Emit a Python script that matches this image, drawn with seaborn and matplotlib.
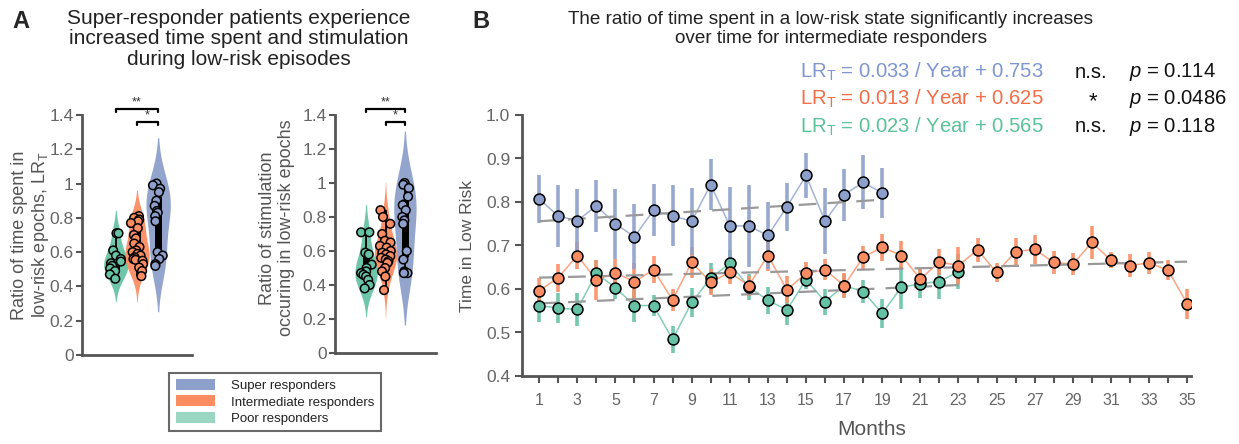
import numpy as np
import pandas as pd
import matplotlib
matplotlib.use("Agg")
import matplotlib.pyplot as plt
from matplotlib.patches import Patch
import seaborn as sns

# ---------------- Data ----------------
group_names = ["Poor", "Intermediate", "Super"]
legend_labels = ["Super responders", "Intermediate responders", "Poor responders"]

# Panel A (left): ratio of time spent in low-risk epochs
time_poor = [0.71, 0.71, 0.61, 0.58, 0.56, 0.545, 0.535, 0.52, 0.505, 0.49, 0.47, 0.445]
time_inter = [0.81, 0.80, 0.79, 0.78, 0.77, 0.74, 0.70, 0.68, 0.65, 0.63, 0.61,
              0.60, 0.59, 0.58, 0.57, 0.56, 0.555, 0.55, 0.53, 0.51, 0.49, 0.46]
time_super = [1.0, 0.99, 0.97, 0.95, 0.90, 0.87, 0.84, 0.83, 0.81, 0.78,
              0.60, 0.58, 0.56, 0.53, 0.52]

# Panel A (right): ratio of stimulation occurring in low-risk epochs
stim_poor = [0.71, 0.71, 0.59, 0.58, 0.52, 0.50, 0.48, 0.47, 0.46, 0.45, 0.43, 0.40, 0.38]
stim_inter = [0.84, 0.80, 0.76, 0.70, 0.66, 0.65, 0.63, 0.62, 0.60, 0.59, 0.58,
              0.57, 0.56, 0.55, 0.54, 0.53, 0.50, 0.48, 0.45, 0.37]
stim_super = [1.0, 0.99, 0.97, 0.92, 0.87, 0.84, 0.80, 0.78, 0.76, 0.60,
              0.55, 0.48, 0.47, 0.47]

# Panel B: time in low risk per month (mean, error)
months_super = list(range(1, 20))
super_mean = [0.807, 0.768, 0.757, 0.791, 0.750, 0.720, 0.781, 0.768, 0.756, 0.840,
              0.745, 0.745, 0.723, 0.789, 0.861, 0.756, 0.817, 0.845, 0.821]
super_err = [0.056, 0.071, 0.072, 0.059, 0.080, 0.075, 0.060, 0.070, 0.077, 0.059,
             0.089, 0.094, 0.077, 0.055, 0.051, 0.076, 0.060, 0.062, 0.058]

months_inter = list(range(1, 36))
inter_mean = [0.596, 0.626, 0.677, 0.621, 0.637, 0.617, 0.644, 0.575, 0.661, 0.616,
              0.638, 0.608, 0.677, 0.598, 0.636, 0.644, 0.608, 0.673, 0.696, 0.677,
              0.623, 0.662, 0.654, 0.690, 0.638, 0.686, 0.691, 0.661, 0.657, 0.707,
              0.666, 0.654, 0.660, 0.643, 0.566]
inter_err = [0.029, 0.032, 0.032, 0.046, 0.032, 0.042, 0.031, 0.025, 0.035, 0.029,
             0.026, 0.023, 0.035, 0.031, 0.027, 0.024, 0.029, 0.026, 0.031, 0.033,
             0.025, 0.029, 0.043, 0.028, 0.022, 0.032, 0.033, 0.027, 0.025, 0.038,
             0.018, 0.027, 0.025, 0.023, 0.034]

months_poor = list(range(1, 24))
poor_mean = [0.562, 0.556, 0.553, 0.636, 0.603, 0.562, 0.562, 0.484, 0.569, 0.625,
             0.659, 0.605, 0.574, 0.552, 0.621, 0.571, 0.608, 0.594, 0.544, 0.604,
             0.612, 0.617, 0.640]
poor_err = [0.038, 0.035, 0.038, 0.030, 0.025, 0.038, 0.025, 0.031, 0.033, 0.035,
            0.030, 0.030, 0.031, 0.034, 0.021, 0.030, 0.026, 0.026, 0.034, 0.050,
            0.033, 0.040, 0.040]

# Linear fits (slope per year, intercept)
fit_slope = {"Super": 0.033, "Intermediate": 0.013, "Poor": 0.023}
fit_icpt = {"Super": 0.753, "Intermediate": 0.625, "Poor": 0.565}
fit_sig = {"Super": "n.s.", "Intermediate": "*", "Poor": "n.s."}
fit_p = {"Super": "0.114", "Intermediate": "0.0486", "Poor": "0.118"}

# ---------------- Style ----------------
sns.set_theme(style="white")
plt.rcParams["font.family"] = ["Liberation Sans", "DejaVu Sans"]
plt.rcParams["mathtext.fontset"] = "custom"
plt.rcParams["mathtext.rm"] = "Liberation Sans"
plt.rcParams["mathtext.it"] = "Liberation Sans:italic"

pal = {"Super": "#8da0cb", "Intermediate": "#fc8d62", "Poor": "#66c2a5"}
txt_col = {"Super": "#7f97cf", "Intermediate": "#f26d48", "Poor": "#5cc29c"}
spine_col = "#555555"
tick_col = "#666666"

W, H = 1239, 444
fig = plt.figure(figsize=(W / 100, H / 100), dpi=100)


def fax(x0, y0, x1, y1):
    return fig.add_axes([x0 / W, 1 - y1 / H, (x1 - x0) / W, (y1 - y0) / H])


def style_axes(ax):
    sns.despine(ax=ax)
    for s in ["left", "bottom"]:
        ax.spines[s].set_color(spine_col)
        ax.spines[s].set_linewidth(2)


# ---------------- Panel A ----------------
def violin_panel(ax, poor, inter, sup, seed):
    df = pd.DataFrame({
        "group": ["Poor"] * len(poor) + ["Intermediate"] * len(inter) + ["Super"] * len(sup),
        "value": poor + inter + sup,
    })
    sns.violinplot(data=df, x="group", y="value", hue="group", order=group_names,
                   hue_order=group_names, palette=pal, inner=None, linewidth=0,
                   density_norm="width", width=1.15, bw_adjust=1.3, saturation=1,
                   legend=False, ax=ax, alpha=0.95)
    for i, g in enumerate(group_names):
        v = df.loc[df.group == g, "value"].to_numpy()
        q1, med, q3 = np.percentile(v, [25, 50, 75])
        ax.plot([i, i], [v.min(), v.max()], color="black", lw=1.3, zorder=3,
                solid_capstyle="butt")
        ax.plot([i, i], [q1, q3], color="black", lw=5, zorder=3, solid_capstyle="butt")
        ax.plot([i], [med], marker="s", ms=3.5, color="white", zorder=3.5)
    np.random.seed(seed)
    sns.stripplot(data=df, x="group", y="value", hue="group", order=group_names,
                  hue_order=group_names, palette=pal, jitter=0.3, size=6.2,
                  edgecolor="black", linewidth=1.1, legend=False, ax=ax, zorder=4)
    ax.set_xlim(-1.6, 3.6)
    ax.set_ylim(0, 1.4)
    ax.set_yticks(np.arange(0, 1.41, 0.2))
    ax.set_yticklabels(["0", "0.2", "0.4", "0.6", "0.8", "1", "1.2", "1.4"])
    ax.set_xticks([])
    ax.set_xlabel("")
    ax.set_ylabel("")
    style_axes(ax)
    ax.tick_params(axis="y", direction="out", length=4, width=1.5, color=spine_col,
                   labelsize=12.5, labelcolor=tick_col, pad=2, left=True)
    # significance brackets
    for x0, x1, y, lab in [(0, 2, 1.435, "**"), (1, 2, 1.36, "*")]:
        ax.plot([x0, x0, x1, x1], [y - 0.018, y, y, y - 0.018], color="black",
                lw=1.6, clip_on=False, zorder=5)
        ax.text((x0 + x1) / 2, y + 0.002, lab, ha="center", va="bottom",
                fontsize=9, color="#333333", clip_on=False)


axA1 = fax(82, 115, 192, 355)
violin_panel(axA1, time_poor, time_inter, time_super, 3)
axA2 = fax(335, 115, 436, 353)
violin_panel(axA2, stim_poor, stim_inter, stim_super, 7)

fig.text(31 / W, 1 - 235 / H, "Ratio of time spent in\nlow-risk epochs, LR$_\\mathregular{T}$",
         rotation=90, ha="center", va="center", fontsize=13, color=spine_col,
         linespacing=1.15)
fig.text(277 / W, 1 - 228 / H, "Ratio of stimulation\noccuring in low-risk epochs",
         rotation=90, ha="center", va="center", fontsize=13, color=spine_col,
         linespacing=1.15)

fig.text(12 / W, 1 - 21 / H, "A", fontsize=17, fontweight="bold", ha="left", va="center")
fig.text(239 / W, 1 - 39 / H,
         "Super-responder patients experience\nincreased time spent and stimulation\nduring low-risk episodes",
         ha="center", va="center", fontsize=15, color="#222222", linespacing=1.08)

handles = [Patch(facecolor=pal["Super"], edgecolor="none"),
           Patch(facecolor=pal["Intermediate"], edgecolor="none"),
           Patch(facecolor="#9bd6c2", edgecolor="none")]
leg = fig.legend(handles, legend_labels, loc="center",
                 bbox_to_anchor=(275 / W, 1 - 402 / H), fontsize=9.5,
                 frameon=True, fancybox=False, handlelength=3.0, handleheight=0.9,
                 handletextpad=1.2, borderpad=0.5, labelspacing=0.25)
leg.get_frame().set_edgecolor("#444444")
leg.get_frame().set_linewidth(1.5)
for t in leg.get_texts():
    t.set_color("#222222")

# ---------------- Panel B ----------------
axB = fax(522, 115, 1191, 376)

series = [("Poor", months_poor, poor_mean, poor_err),
          ("Intermediate", months_inter, inter_mean, inter_err),
          ("Super", months_super, super_mean, super_err)]

for g, m, mu, err in series:
    df = pd.DataFrame({"month": m, "mean": mu, "err": err})
    axB.vlines(df["month"], df["mean"] - df["err"], df["mean"] + df["err"],
               color=pal[g], lw=2.6, zorder=1, alpha=0.9)
    sns.lineplot(data=df, x="month", y="mean", color=pal[g], lw=1.1, alpha=0.8,
                 ax=axB, zorder=2, legend=False)
    mm = np.array([m[0], m[-1]], dtype=float)
    axB.plot(mm, fit_icpt[g] + fit_slope[g] * mm / 12, color="#999999", lw=1.6,
             dashes=(8, 5), zorder=3)
    sns.scatterplot(data=df, x="month", y="mean", color=pal[g], s=62,
                    edgecolor="black", linewidth=1.1, ax=axB, zorder=4, legend=False)

axB.set_xlim(0.1, 35.2)
axB.set_ylim(0.4, 1.0)
axB.set_yticks(np.arange(0.4, 1.01, 0.1))
axB.set_yticklabels([f"{v:.1f}" for v in np.arange(0.4, 1.01, 0.1)])
axB.set_xticks(range(1, 36))
axB.set_xticklabels([str(i) if i % 2 == 1 else "" for i in range(1, 36)])
style_axes(axB)
axB.tick_params(axis="both", direction="out", length=5, width=1.5, color=spine_col,
                labelsize=11.5, labelcolor=tick_col, left=True, bottom=True)
axB.tick_params(axis="x", pad=7)
axB.tick_params(axis="y", labelsize=12.5)
axB.set_xlabel("Months", fontsize=15, color=spine_col, labelpad=6)
axB.xaxis.set_label_coords(0.523, -0.17)
axB.set_ylabel("Time in Low Risk", fontsize=12.5, color=spine_col, labelpad=8)

fig.text(472 / W, 1 - 21 / H, "B", fontsize=17, fontweight="bold", ha="left", va="center")
fig.text(831 / W, 1 - 29 / H,
         "The ratio of time spent in a low-risk state significantly increases\nover time for intermediate responders",
         ha="center", va="center", fontsize=13.6, color="#222222", linespacing=1.08)

for k, g in enumerate(["Super", "Intermediate", "Poor"]):
    y = 1 - (72 + 27.3 * k) / H
    fig.text(800 / W, y, f"LR$_\\mathregular{{T}}$ = {fit_slope[g]:.3f} / Year + {fit_icpt[g]:.3f}",
             ha="left", va="center", fontsize=14.6, color=txt_col[g])
    if fit_sig[g] == "*":
        fig.text(1093 / W, y - 0.006, "*", ha="center", va="center", fontsize=16, color="#111111")
    else:
        fig.text(1075 / W, y, fit_sig[g], ha="left", va="center", fontsize=14.6, color="#111111")
    fig.text(1129 / W, y, f"$p$ = {fit_p[g]}", ha="left", va="center", fontsize=14.6,
             color="#111111")

fig.savefig("out.png", dpi=100)
